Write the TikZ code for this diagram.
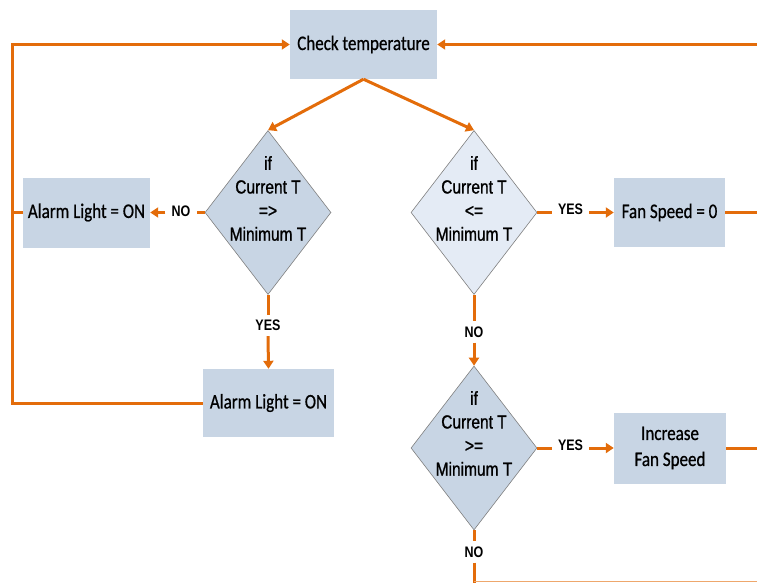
\documentclass[tikz,border=0pt]{standalone}
\usepackage{fontspec}
\setmainfont{Carlito}[FakeBold=0.8]
\newfontfamily\carl{Carlito}[FakeBold=0.8]
\newfontfamily\arialf{Liberation Sans}[FakeBold=1.2]
\newfontfamily\arialb{Liberation Sans Bold}
\usetikzlibrary{arrows.meta,shapes.geometric}
\newcommand{\vs}[1]{\scalebox{1}[1.22]{#1}}
\definecolor{org}{HTML}{E36C0A}
\definecolor{boxfill}{HTML}{C8D5E4}
\definecolor{lightfill}{HTML}{E4EBF5}
\definecolor{dborder}{HTML}{7F7F7F}
\begin{document}
\begin{tikzpicture}[x=1pt,y=-1pt,
  box/.style={fill=boxfill, inner sep=0pt, font=\carl\fontsize{17}{20}\selectfont, text=black, align=center},
  dia/.style={diamond, draw=dborder, line width=0.6pt, fill=boxfill, inner sep=0pt, minimum width=126pt, minimum height=164pt},
  diatext/.style={align=center, font=\arialf\fontsize{15.5}{23.6}\selectfont, inner sep=0pt},
  lab/.style={font=\arialb\fontsize{12.5}{14}\selectfont, inner xsep=6pt, inner ysep=5pt},
  conn/.style={draw=org, line width=3pt},
  arr/.style={conn, -{Triangle[width=10pt,length=8pt]}},
]
\useasboundingbox (0,0) rectangle (757,583);

% boxes
\node[box, minimum width=147pt, minimum height=69pt] (ct) at (363.5,44.5) {\vs{Check temperature}};
\node[box, minimum width=127pt, minimum height=70pt] (a1) at (86.5,212.5) {\vs{Alarm Light = ON}};
\node[box, minimum width=131pt, minimum height=68pt] (a2) at (268.5,403) {\vs{Alarm Light = ON}};
\node[box, minimum width=111pt, minimum height=69pt] (f0) at (669.5,212.5) {\vs{Fan Speed = 0}};
\node[box, minimum width=112pt, minimum height=71pt, font=\carl\fontsize{17}{26}\selectfont] (inc) at (670,448) {\vs{Increase}\\\vs{Fan Speed}};

% diamonds
\node[dia] (d1) at (268,212.5) {};
\node[dia, fill=lightfill] (d2) at (474,212.5) {};
\node[dia] (d3) at (474,448) {};
\node[diatext] (t1) at (268,198.5) {\vs{if}\\\vs{Current T}\\\vs{=>}\\\vs{Minimum T}};
\node[diatext] (t2) at (474,198.5) {\vs{if}\\\vs{Current T}\\\vs{<=}\\\vs{Minimum T}};
\node[diatext] (t3) at (474,433.5) {\vs{if}\\\vs{Current T}\\\vs{>=}\\\vs{Minimum T}};

% labels
\node[lab] (no1) at (181,211) {\vs{NO}};
\node[lab] (yes1) at (268,325.5) {\vs{YES}};
\node[lab] (yes2) at (570.5,209) {\vs{YES}};
\node[lab] (no2) at (474,332) {\vs{NO}};
\node[lab] (yes3) at (570.5,445) {\vs{YES}};
\node[lab] (no3) at (474,552) {\vs{NO}};

% free ends
\coordinate (rt) at (757,44.5);
\coordinate (lt) at (12,44.5);
\coordinate (r1) at (757,212.5);
\coordinate (r2) at (757,448);
\coordinate (bl) at (474,583);
\coordinate (bc) at (474,581.5);
\coordinate (br) at (757,581.5);

% connectors
\draw[arr] (rt) -- (ct.east);
\draw[arr] (a2.west) -| (lt) -- (ct.west);
\draw[conn] (a1.west) -- (a1.west -| lt);
\draw[arr] (ct.south) -- (d1.north);
\draw[arr] (ct.south) -- (d2.north);
\draw[conn] (d1.west) -- (no1.east |- d1.west);
\draw[arr] (no1.west |- a1.east) -- (a1.east);
\draw[conn] (d1.south) -- (yes1.north);
\draw[arr] (yes1.south) -- (a2.north);
\draw[conn] (d2.east) -- (yes2.west |- d2.east);
\draw[arr] (yes2.east |- f0.west) -- (f0.west);
\draw[conn] (f0.east) -- (r1);
\draw[conn] (d2.south) -- (no2.north);
\draw[arr] (no2.south) -- (d3.north);
\draw[conn] (d3.east) -- (yes3.west |- d3.east);
\draw[arr] (yes3.east |- inc.west) -- (inc.west);
\draw[conn] (inc.east) -- (r2);
\draw[conn] (d3.south) -- (no3.north);
\draw[conn] (no3.south) -- (bl);
\draw[draw=org!60, line width=1.5pt] (bc) -- (br);
\end{tikzpicture}
\end{document}
